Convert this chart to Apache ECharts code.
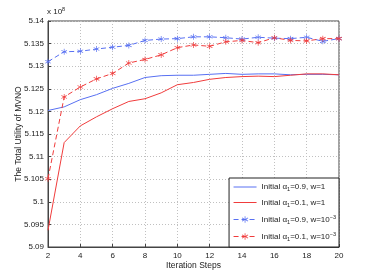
<!DOCTYPE html>
<html><head><meta charset="utf-8">
<script src="https://cdn.jsdelivr.net/npm/echarts@6/dist/echarts.min.js"></script>
<style>html,body{margin:0;padding:0;background:#fff}#c{width:374px;height:278px}</style>
</head><body><div id="c"></div>
<script>
var steps = [2,3,4,5,6,7,8,9,10,11,12,13,14,15,16,17,18,19,20];
var blueSolid = [5.1202,5.1210,5.1226,5.1237,5.1251,5.1262,5.1275,5.1279,5.1280,5.1280,5.1282,5.1284,5.1282,5.1283,5.1283,5.1281,5.1282,5.1282,5.1281];
var redSolid = [5.0937,5.1131,5.1168,5.1188,5.1206,5.1222,5.1228,5.1241,5.1259,5.1264,5.1271,5.1275,5.1277,5.1278,5.1277,5.1280,5.1283,5.1283,5.1281];
var blueDashed = [5.1310,5.1332,5.1333,5.1338,5.1342,5.1346,5.1357,5.1360,5.1361,5.1365,5.1365,5.1363,5.1360,5.1364,5.1362,5.1361,5.1364,5.1355,5.1361];
var redDashed = [5.1051,5.1232,5.1254,5.1272,5.1284,5.1307,5.1315,5.1325,5.1341,5.1347,5.1344,5.1354,5.1357,5.1352,5.1363,5.1357,5.1356,5.1361,5.1361];
var seriesNames = ['s1','s2','s3','s4'];
var legendAlpha = ['0.9','0.1','0.9','0.1'];
var legendW = ['1','1','10','10'];
var yTicks = [5.09,5.14,0.005];
var xTicks = [2,20,2];

var BLUE = '#5870f2', RED = '#f03c3c';
var FONT = 'Liberation Sans';
var star = 'path://M4.5,0 L5.5,0 L5.5,3.8 L8.8,1.9 L9.3,2.8 L6,4.7 L9.3,6.6 L8.8,7.5 L5.5,5.6 L5.5,9.4 L4.5,9.4 L4.5,5.6 L1.2,7.5 L0.7,6.6 L4,4.7 L0.7,2.8 L1.2,1.9 L4.5,3.8 Z';
function pts(a){return steps.map(function(s,i){return [s,a[i]];});}
var chart = echarts.init(document.getElementById('c'));
chart.setOption({
  animation:false,
  textStyle:{fontFamily:FONT},
  grid:{left:48,right:35,top:21,bottom:31,show:true,borderColor:'#444',borderWidth:1},
  graphic:[{type:'text',left:47,top:6,style:{text:'{a|x 10}{b|8}',rich:{a:{fontSize:8,fontFamily:FONT,fill:'#222'},b:{fontSize:5.5,fontFamily:FONT,fill:'#222',padding:[0,0,6,0]}}}}],
  xAxis:{type:'value',min:xTicks[0],max:xTicks[1],interval:xTicks[2],
    name:'Iteration Steps',nameLocation:'middle',nameGap:14,nameMoveOverlap:false,nameTextStyle:{fontSize:8.5,color:'#222',fontFamily:FONT},
    axisLine:{lineStyle:{color:'#444'}},axisTick:{inside:true,length:3,lineStyle:{color:'#444'}},
    axisLabel:{fontSize:8,color:'#222',margin:5,fontFamily:FONT},
    splitLine:{show:true,lineStyle:{color:'#c0c0c0',type:[1,2]}}},
  yAxis:{type:'value',min:yTicks[0],max:yTicks[1],interval:yTicks[2],
    name:'The Total Utility of MVNO',nameLocation:'middle',nameGap:25,nameMoveOverlap:false,nameTextStyle:{fontSize:8.5,color:'#222',fontFamily:FONT},
    axisLine:{show:true,lineStyle:{color:'#444'}},axisTick:{show:true,inside:true,length:3,lineStyle:{color:'#444'}},
    axisLabel:{fontSize:8,color:'#222',margin:4,fontFamily:FONT,formatter:function(v){return String(+v.toFixed(3));}},
    splitLine:{show:true,lineStyle:{color:'#c0c0c0',type:[1,2]}}},
  legend:{orient:'vertical',right:35,bottom:31,backgroundColor:'#fff',borderColor:'#222',borderWidth:1,borderRadius:0,
    padding:[5,3,5,4],itemGap:6,itemWidth:23,itemHeight:8,lineStyle:{width:1},
    data:[{name:seriesNames[0],itemStyle:{opacity:0}},{name:seriesNames[1],itemStyle:{opacity:0}},seriesNames[2],seriesNames[3]],
    textStyle:{fontSize:8,color:'#222',fontFamily:FONT,
      rich:{t:{fontSize:8,fontFamily:FONT,color:'#222'},s:{fontSize:5.5,fontFamily:FONT,color:'#222',padding:[5,0,0,0]},p:{fontSize:5.5,fontFamily:FONT,color:'#222',padding:[0,0,5,0]}}},
    formatter:function(n){var i=seriesNames.indexOf(n);
      var s='{t|Initial α}{s|1}{t|='+legendAlpha[i]+', w='+legendW[i]+'}';
      if(i>=2) s+='{p|−3}';
      return s;}},
  series:[
    {name:seriesNames[0],type:'line',data:pts(blueSolid),symbol:'none',lineStyle:{color:BLUE,width:1},itemStyle:{color:BLUE},z:2},
    {name:seriesNames[1],type:'line',data:pts(redSolid),symbol:'none',lineStyle:{color:RED,width:1},itemStyle:{color:RED},z:2},
    {name:seriesNames[2],type:'line',data:pts(blueDashed),symbol:star,symbolSize:6,lineStyle:{color:BLUE,width:1,type:[5,3]},itemStyle:{color:BLUE},z:3},
    {name:seriesNames[3],type:'line',data:pts(redDashed),symbol:star,symbolSize:6,lineStyle:{color:RED,width:1,type:[5,3]},itemStyle:{color:RED},z:3}
  ]
});
</script></body></html>
